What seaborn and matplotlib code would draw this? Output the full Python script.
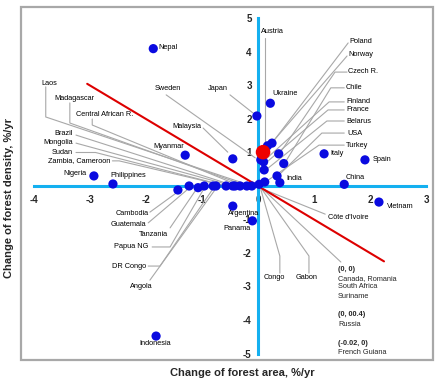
import numpy as np
import pandas as pd
import seaborn as sns
import matplotlib.pyplot as plt
from matplotlib.patches import Rectangle

# change of forest area vs change of forest density, %/yr
area = [-1.87, -1.30, -2.93, -2.59, -0.45, -0.02, 0.22, 0.25, 0.17, 0.37,
        0.46, 0.05, 0.10, 0.11, 0.34, 0.12, 0.39, 1.18, 1.91, 1.54,
        2.16, -0.45, -0.10, -1.82, -1.43, -1.23, -1.07, -0.96, -0.80, -0.75,
        -0.57, -0.45, -0.41, -0.32, -0.20, -0.11, 0.02]
density = [4.10, 0.92, 0.30, 0.06, 0.81, 2.09, 2.47, 1.28, 1.20, 0.96,
           0.67, 0.78, 0.72, 0.48, 0.30, 0.12, 0.10, 0.96, 0.78, 0.05,
           -0.48, -0.60, -1.04, -4.48, -0.12, 0.0, -0.05, 0.0, 0.0, 0.0,
           0.0, 0.0, 0.0, 0.0, 0.0, 0.0, 0.05]

# world average
world_area = [0.09]
world_density = [1.01]

# fitted trend line
trend_slope = -1.0
trend_intercept = 0.0
trend_from, trend_to = -3.05, 2.25

xticks = [-4, -3, -2, -1, 0, 1, 2, 3]
yticks = [-5, -4, -3, -2, -1, 0, 1, 2, 3, 4, 5]

# label text, x, y, alignment
labels = [
    ("Nepal", -1.77, 4.12, "left"),
    ("Laos", -3.86, 3.07, "left"),
    ("Madagascar", -3.64, 2.60, "left"),
    ("Central African R.", -3.25, 2.12, "left"),
    ("Sweden", -1.84, 2.90, "left"),
    ("Japan", -0.89, 2.90, "left"),
    ("Malaysia", -1.52, 1.79, "left"),
    ("Myanmar", -1.875, 1.19, "left"),
    ("Brazil", -3.30, 1.58, "right"),
    ("Mongolia", -3.30, 1.31, "right"),
    ("Sudan", -3.30, 1.01, "right"),
    ("Zambia, Cameroon", -2.64, 0.75, "right"),
    ("Nigeria", -3.48, 0.36, "left"),
    ("Philippines", -2.64, 0.30, "left"),
    ("Cambodia", -1.95, -0.81, "right"),
    ("Guatemala", -2.0, -1.16, "right"),
    ("Tanzania", -2.125, -1.46, "left"),
    ("Papua NG", -1.95, -1.82, "right"),
    ("DR Congo", -2.0, -2.39, "right"),
    ("Angola", -1.89, -3.01, "right"),
    ("Indonesia", -1.84, -4.69, "center"),
    ("Argentina", -0.54, -0.81, "left"),
    ("Panama", -0.625, -1.28, "left"),
    ("C\u00f4te d'Ivoire", 1.25, -0.93, "left"),
    ("Congo", 0.30, -2.72, "center"),
    ("Gabon", 0.86, -2.72, "center"),
    ("Vietnam", 2.30, -0.60, "left"),
    ("Austria", 0.05, 4.60, "left"),
    ("Poland", 1.625, 4.30, "left"),
    ("Norway", 1.61, 3.94, "left"),
    ("Czech R.", 1.61, 3.43, "left"),
    ("Chile", 1.57, 2.93, "left"),
    ("Finland", 1.57, 2.51, "left"),
    ("France", 1.57, 2.27, "left"),
    ("Belarus", 1.57, 1.94, "left"),
    ("USA", 1.59, 1.58, "left"),
    ("Turkey", 1.57, 1.22, "left"),
    ("Ukraine", 0.25, 2.75, "left"),
    ("Italy", 1.30, 0.96, "left"),
    ("Spain", 2.04, 0.78, "left"),
    ("China", 1.57, 0.24, "left"),
    ("India", 0.50, 0.21, "left"),
]

# note block in lower right
notes = [("(0, 0)", True), ("Canada, Romania", False), ("South Africa", False),
         ("Suriname", False), ("(0, 00.4)", True), ("Russia", False),
         ("(-0.02, 0)", True), ("French Guiana", False)]
notes_y = [-2.48, -2.75, -3.01, -3.31, -3.85, -4.12, -4.69, -4.96]

# leader lines
leaders = [
    [(-3.79, 2.96), (-3.79, 2.06), (-0.11, 0)],
    [(-3.36, 2.48), (-3.36, 1.88), (-0.20, 0)],
    [(-2.96, 2.0), (-2.96, 1.82), (-0.32, 0)],
    [(-3.25, 1.52), (-0.41, 0)],
    [(-3.25, 1.28), (-0.45, 0)],
    [(-3.25, 1.0), (-2.90, 1.0), (-0.57, 0)],
    [(-2.60, 0.75), (-2.48, 0.75), (-0.57, 0)],
    [(-1.64, 2.72), (-0.05, 0.84)],
    [(-0.50, 2.72), (-0.09, 2.18)],
    [(-0.98, 1.73), (-0.54, 1.01)],
    [(-1.93, -0.78), (-1.46, -0.21)],
    [(-1.96, -1.10), (-1.27, -0.12)],
    [(-1.57, -1.25), (-1.11, -0.12)],
    [(-1.89, -1.82), (-1.57, -1.82), (-0.98, -0.12)],
    [(-1.96, -2.39), (-1.75, -2.39), (-0.82, -0.12)],
    [(-1.93, -2.81), (-0.77, -0.12)],
    [(1.20, -0.84), (0.10, -0.10)],
    [(0.39, -2.60), (0.39, -2.09), (0.05, -0.10)],
    [(0.91, -2.60), (0.91, -2.09), (0.07, -0.10)],
    [(1.48, -2.27), (0.09, -0.10)],
    [(0.125, 4.42), (0.125, 1.16)],
    [(1.61, 4.27), (0.25, 1.28)],
    [(1.59, 3.88), (0.20, 1.20)],
    [(1.59, 3.40), (1.375, 3.40), (0.39, 0.98)],
    [(1.54, 2.93), (1.30, 2.93), (0.48, 0.69)],
    [(1.54, 2.51), (1.27, 2.51), (0.125, 0.78)],
    [(1.54, 2.27), (1.25, 2.27), (0.14, 0.69)],
    [(1.54, 1.94), (1.23, 1.94), (0.14, 0.48)],
    [(1.54, 1.58), (1.14, 1.58), (0.375, 0.33)],
    [(1.54, 1.22), (1.09, 1.22), (0.16, 0.15)],
]

sns.set_style("white")
plt.rcParams['font.family'] = ['Liberation Sans', 'DejaVu Sans']

blue = '#14b0f0'
dot = '#0a0ae0'
grey = '#a8a8a8'

fig = plt.figure(figsize=(4.41, 3.86), dpi=100)
ax = fig.add_axes([21/441, 1 - 360/386, 412/441, 353/386])

df = pd.DataFrame({"area": area, "density": density})

for line in leaders:
    xs, ys = zip(*line)
    ax.plot(xs, ys, color=grey, lw=0.8, zorder=1)

trend_x = np.array([trend_from, trend_to])
sns.lineplot(x=trend_x, y=trend_slope * trend_x + trend_intercept, color='#dd0000',
             lw=1.5, ax=ax, zorder=2)

sns.scatterplot(data=df, x="area", y="density", color=dot, s=44, edgecolor='none',
                ax=ax, zorder=4)
sns.scatterplot(x=world_area, y=world_density, color='#ee0000', s=110, edgecolor='none',
                ax=ax, zorder=5)

for txt, lx, ly, ha in labels:
    ax.text(lx, ly, txt, ha=ha, va='center', fontsize=5.3, color='black', zorder=6)
for (txt, bold), ny in zip(notes, notes_y):
    ax.text(1.43, ny, txt, ha='left', va='center', fontsize=5.3,
            fontweight='bold' if bold else 'normal', zorder=6)

ax.set_xlim(-4.232, 3.125)
ax.set_ylim(-5.194, 5.343)

for s in ['top', 'right']:
    ax.spines[s].set_visible(False)
ax.spines['left'].set_position(('data', 0))
ax.spines['bottom'].set_position(('data', 0))
ax.spines['left'].set_bounds(-5, 5)
ax.spines['bottom'].set_bounds(-4, 3)
for s in ['left', 'bottom']:
    ax.spines[s].set_color(blue)
    ax.spines[s].set_linewidth(2.2)
    ax.spines[s].set_zorder(3)

ax.set_xticks(xticks)
ax.set_xticklabels([str(t) for t in xticks])
ax.set_yticks(yticks)
ax.set_yticklabels([str(t) for t in yticks])
ax.tick_params(axis='both', direction='inout', length=5, width=1.5, color=blue,
               labelsize=7)
ax.tick_params(axis='x', pad=4)
ax.tick_params(axis='y', pad=2)
for t in ax.get_xticklabels() + ax.get_yticklabels():
    t.set_fontweight('bold')
ax.set_xlabel('')
ax.set_ylabel('')

ax.add_patch(Rectangle((0, 0), 1, 1, transform=ax.transAxes, fill=False,
                       edgecolor='#a8a8a8', lw=1.6, clip_on=False, zorder=8))

fig.text(242/441, 1 - 373/386, 'Change of forest area, %/yr', ha='center', va='center',
         fontsize=8, fontweight='bold')
fig.text(9/441, 1 - 198/386, 'Change of forest density, %/yr', ha='center', va='center',
         fontsize=8, fontweight='bold', rotation=90)

fig.savefig('out.png', dpi=100, facecolor='white')
